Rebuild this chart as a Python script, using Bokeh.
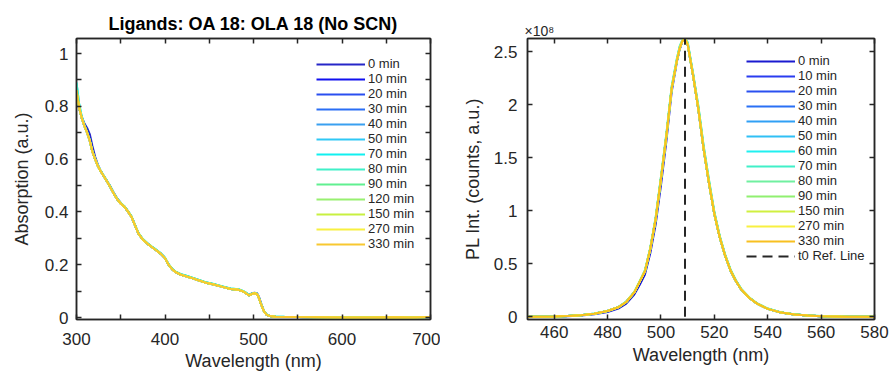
from bokeh.plotting import figure
from bokeh.layouts import row
from bokeh.models import (LinearAxis, FixedTicker, Legend, LegendItem, Range1d,
                          CustomJSTickFormatter, CustomLabelingPolicy)
from bokeh.embed import file_html
from bokeh.resources import INLINE

FONT = "Liberation Sans"
DARK = "#262626"

# ---------------- data: absorption ----------------
abs_wl = [300, 303, 306, 309, 312, 315, 318, 321, 324, 327, 330, 334, 338, 342, 346,
          350, 354, 358, 362, 366, 370, 375, 380, 385, 390, 395, 400, 404, 408, 412,
          418, 424, 430, 436, 445, 455, 465, 474, 483, 488, 491, 495, 498, 501, 504,
          506, 508, 510, 512, 515, 518, 525, 535, 550, 570, 600, 630, 660, 680, 700]
abs_common = [0.860, 0.795, 0.755, 0.725, 0.700, 0.670, 0.628, 0.600, 0.575, 0.556,
              0.540, 0.518, 0.495, 0.470, 0.448, 0.432, 0.420, 0.402, 0.382, 0.350,
              0.318, 0.295, 0.280, 0.267, 0.255, 0.242, 0.225, 0.200, 0.183, 0.172,
              0.162, 0.156, 0.150, 0.143, 0.133, 0.125, 0.116, 0.108, 0.105, 0.099,
              0.093, 0.084, 0.089, 0.092, 0.089, 0.075, 0.055, 0.038, 0.022, 0.010,
              0.006, 0.003, 0.002, 0.0015, 0.001, 0.000, 0.0005, 0.001, 0.000, 0.002]
abs_0min = [0.835, 0.790, 0.760, 0.735, 0.718, 0.695, 0.650, 0.610, 0.580, 0.558,
            0.541, 0.520, 0.498, 0.474, 0.451, 0.434, 0.421, 0.403, 0.383, 0.351,
            0.319, 0.296, 0.281, 0.268, 0.256, 0.243, 0.226, 0.201, 0.184, 0.173,
            0.163, 0.157, 0.151, 0.144, 0.134, 0.126, 0.117, 0.109, 0.106, 0.100,
            0.094, 0.086, 0.091, 0.094, 0.092, 0.080, 0.060, 0.040, 0.023, 0.010,
            0.006, 0.003, 0.002, 0.0015, 0.001, 0.000, 0.0005, 0.001, 0.000, 0.002]
abs_70min = [0.890, 0.810, 0.760, 0.728, 0.702, 0.672, 0.630, 0.602, 0.577, 0.558,
             0.542, 0.520, 0.497, 0.472, 0.450, 0.434, 0.422, 0.404, 0.384, 0.352,
             0.320, 0.297, 0.282, 0.269, 0.257, 0.244, 0.227, 0.202, 0.185, 0.174,
             0.164, 0.158, 0.152, 0.145, 0.135, 0.127, 0.118, 0.110, 0.107, 0.101,
             0.095, 0.086, 0.090, 0.093, 0.090, 0.076, 0.056, 0.039, 0.023, 0.011,
             0.007, 0.004, 0.003, 0.002, 0.0015, 0.001, 0.001, 0.0015, 0.001, 0.002]

abs_labels = ["0 min", "10 min", "20 min", "30 min", "40 min", "50 min", "70 min",
              "80 min", "90 min", "120 min", "150 min", "270 min", "330 min"]
abs_colors = ["#2626c8", "#1010f0", "#2a4ef0", "#2a6ef5", "#3aa0f0", "#30c8f5",
              "#10f0f0", "#40f0c8", "#60f090", "#98f070", "#c8f040", "#f8f040",
              "#f8c830"]
abs_series = [abs_0min, abs_common, abs_common, abs_common, abs_common, abs_common,
              abs_70min, abs_70min, abs_common, abs_common, abs_common, abs_common,
              abs_common]

# ---------------- data: PL (x 1e8 counts) ----------------
pl_wl = [450, 460, 465, 470, 475, 480, 484, 487, 490, 492, 494, 496, 498, 500, 502,
         504, 506, 507, 508, 509, 510, 512, 514, 516, 518, 520, 522, 524, 526, 528,
         530, 533, 536, 540, 545, 550, 555, 560, 570, 580]
pl_common = [0.000, 0.003, 0.007, 0.015, 0.030, 0.055, 0.090, 0.140, 0.230, 0.330,
             0.430, 0.640, 0.920, 1.300, 1.700, 2.150, 2.420, 2.530, 2.600, 2.620,
             2.570, 2.280, 1.960, 1.580, 1.260, 0.970, 0.750, 0.580, 0.440, 0.340,
             0.260, 0.180, 0.125, 0.075, 0.040, 0.022, 0.012, 0.006, 0.002, 0.000]
pl_0min = [0.000, 0.002, 0.005, 0.012, 0.025, 0.045, 0.078, 0.125, 0.210, 0.300,
           0.400, 0.600, 0.870, 1.240, 1.650, 2.120, 2.410, 2.520, 2.600, 2.620,
           2.580, 2.290, 1.970, 1.590, 1.270, 0.980, 0.755, 0.585, 0.445, 0.345,
           0.262, 0.182, 0.126, 0.076, 0.041, 0.022, 0.012, 0.006, 0.002, 0.000]
pl_80min = [0.000, 0.003, 0.007, 0.015, 0.031, 0.056, 0.092, 0.143, 0.235, 0.335,
            0.440, 0.650, 0.935, 1.320, 1.720, 2.170, 2.440, 2.550, 2.610, 2.625,
            2.590, 2.300, 1.990, 1.610, 1.290, 0.990, 0.765, 0.590, 0.450, 0.348,
            0.266, 0.185, 0.128, 0.078, 0.042, 0.024, 0.013, 0.007, 0.002, 0.000]

pl_labels = ["0 min", "10 min", "20 min", "30 min", "40 min", "50 min", "60 min",
             "70 min", "80 min", "90 min", "150 min", "270 min", "330 min"]
pl_colors = ["#1a1ad0", "#2a3cf0", "#2a50f0", "#2a70f5", "#30a0f5", "#30c0f5",
             "#20f0f0", "#40f0c8", "#70f0a0", "#90f070", "#d0f040", "#f8f040",
             "#f8c020"]
pl_series = [pl_0min, pl_common, pl_common, pl_common, pl_common, pl_common,
             pl_common, pl_80min, pl_80min, pl_common, pl_common, pl_common,
             pl_common]

t0_peak_nm = 509
ref_label = "t0 Ref. Line"

# ---------------- ticks ----------------
abs_xticks = [300, 400, 500, 600, 700]
abs_xminor = [350, 450, 550, 650]
abs_yticks = [0, 0.2, 0.4, 0.6, 0.8, 1.0]
abs_yminor = [0.1, 0.3, 0.5, 0.7, 0.9]
pl_xticks = [460, 480, 500, 520, 540, 560, 580]
pl_yticks = [0, 0.5, 1.0, 1.5, 2.0, 2.5]

fmt_code = "return String(Math.round(tick*100)/100);"
hide_code = "for (const i of indices) { indices.unset(i) } return indices"


def make_fig(width, xr, yr, mbl, mbr, mbt, mbb):
    p = figure(width=width, height=373, x_range=Range1d(*xr), y_range=Range1d(*yr),
               output_backend="svg", toolbar_location=None,
               min_border_left=mbl, min_border_right=mbr,
               min_border_top=mbt, min_border_bottom=mbb)
    p.grid.visible = False
    p.outline_line_color = DARK
    p.outline_line_width = 1.5
    p.outline_line_alpha = 1
    p.background_fill_color = "white"
    p.border_fill_color = "white"
    return p


def style_axis(ax, ticker, show_labels=True, standoff=8):
    ax.ticker = ticker
    ax.formatter = CustomJSTickFormatter(code=fmt_code)
    ax.major_tick_in = 5
    ax.major_tick_out = 0
    ax.minor_tick_in = 5
    ax.minor_tick_out = 0
    ax.major_tick_line_color = DARK
    ax.minor_tick_line_color = DARK
    ax.major_tick_line_width = 1.5
    ax.minor_tick_line_width = 1.5
    ax.axis_line_color = DARK
    ax.axis_line_width = 1.5
    ax.major_label_text_font = FONT
    ax.major_label_text_color = DARK
    ax.axis_label_text_font = FONT
    ax.axis_label_text_font_style = "normal"
    ax.axis_label_text_color = DARK
    if show_labels:
        ax.major_label_text_font_size = "17px"
        ax.major_label_standoff = standoff
    else:
        ax.major_label_text_font_size = "0px"
        ax.major_label_standoff = 0
        ax.major_label_policy = CustomLabelingPolicy(code=hide_code)


def add_box_axes(p, xt, yt):
    top = LinearAxis()
    right = LinearAxis()
    style_axis(top, xt, show_labels=False)
    style_axis(right, yt, show_labels=False)
    p.add_layout(top, "above")
    p.add_layout(right, "right")


def style_legend(leg, loc):
    leg.location = loc
    leg.background_fill_alpha = 0
    leg.border_line_alpha = 0
    leg.padding = 0
    leg.margin = 0
    leg.spacing = 0
    leg.glyph_width = 49
    leg.glyph_height = 14
    leg.label_height = 14
    leg.label_standoff = 3
    leg.label_text_font = FONT
    leg.label_text_font_size = "13px"
    leg.label_text_line_height = 1.0
    leg.label_text_color = DARK


# Bokeh aligns the frames of plots in a row, so both share top/bottom borders.
TOP, BOTTOM = 38, 53

# ---------------- left: absorption ----------------
p1 = make_fig(440, (300, 700), (-0.0075, 1.057), 76, 10, TOP, BOTTOM)
p1.title.text = "Ligands: OA 18: OLA 18 (No SCN)"
p1.title.align = "center"
p1.title.text_font = FONT
p1.title.text_font_size = "18px"
p1.title.text_font_style = "bold"
p1.title.text_color = "black"
p1.title.standoff = 9

xt1 = FixedTicker(ticks=abs_xticks, minor_ticks=abs_xminor)
yt1 = FixedTicker(ticks=abs_yticks, minor_ticks=abs_yminor)
style_axis(p1.xaxis[0], xt1, standoff=13)
style_axis(p1.yaxis[0], yt1, standoff=8)
p1.xaxis[0].axis_label = "Wavelength (nm)"
p1.yaxis[0].axis_label = "Absorption (a.u.)"
for ax in (p1.xaxis[0], p1.yaxis[0]):
    ax.axis_label_text_font_size = "18px"
p1.xaxis[0].axis_label_standoff = 3
p1.yaxis[0].axis_label_standoff = 10
add_box_axes(p1, xt1, yt1)

items1 = []
for lab, col, ys in zip(abs_labels, abs_colors, abs_series):
    r = p1.line(abs_wl, ys, line_color=col, line_width=2)
    items1.append(LegendItem(label=lab, renderers=[r]))
leg1 = Legend(items=items1)
style_legend(leg1, (240, 68))
p1.add_layout(leg1)

# ---------------- right: PL ----------------
p2 = make_fig(453, (450, 580), (-0.025, 2.625), 87, 19, TOP, BOTTOM)
p2.title.text = "\u00d710\u2078"
p2.title.align = "left"
p2.title.text_font = FONT
p2.title.text_font_size = "14px"
p2.title.text_font_style = "normal"
p2.title.text_color = DARK
p2.title.standoff = 0
p2.title.offset = -3

xt2 = FixedTicker(ticks=pl_xticks)
yt2 = FixedTicker(ticks=pl_yticks)
style_axis(p2.xaxis[0], xt2, standoff=6)
style_axis(p2.yaxis[0], yt2, standoff=10)
p2.xaxis[0].axis_label = "Wavelength (nm)"
p2.yaxis[0].axis_label = "PL Int. (counts, a.u.)"
for ax in (p2.xaxis[0], p2.yaxis[0]):
    ax.axis_label_text_font_size = "18px"
p2.xaxis[0].axis_label_standoff = 4
p2.yaxis[0].axis_label_standoff = 8
add_box_axes(p2, xt2, yt2)

items2 = []
for lab, col, ys in zip(pl_labels, pl_colors, pl_series):
    r = p2.line(pl_wl, ys, line_color=col, line_width=2)
    items2.append(LegendItem(label=lab, renderers=[r]))
ref_x = [t0_peak_nm, t0_peak_nm]
ref_y = [0, max(pl_0min)]
rr = p2.line(ref_x, ref_y, line_color=DARK, line_width=2, line_dash="10 6")
items2.append(LegendItem(label=ref_label, renderers=[rr]))
leg2 = Legend(items=items2)
style_legend(leg2, (219, 56))
p2.add_layout(leg2)

layout = row(p1, p2)
open("out.html", "w").write(file_html(layout, INLINE))
